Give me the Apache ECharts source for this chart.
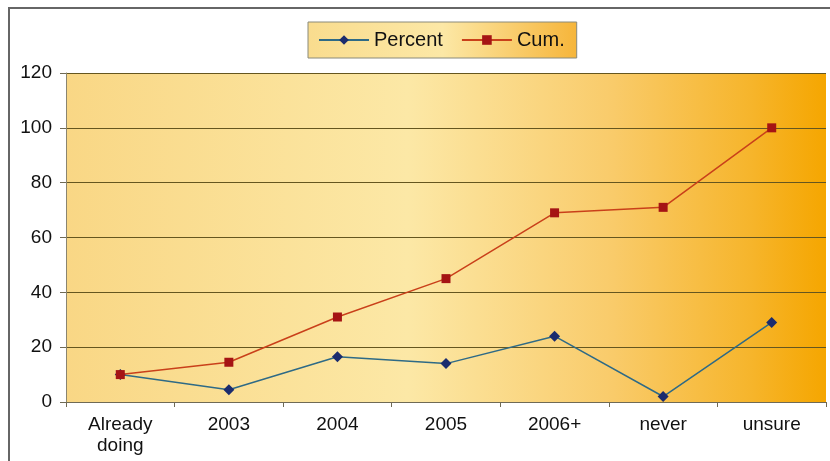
<!DOCTYPE html>
<html>
<head>
<meta charset="utf-8">
<script src="https://cdn.jsdelivr.net/npm/echarts@6/dist/echarts.min.js"></script>
<style>
  html, body { margin: 0; padding: 0; background: #ffffff; }
  #chart { width: 830px; height: 461px; }
</style>
</head>
<body>
<div id="chart"></div>
<script>
// Adoption timing: share per answer and running total
const categories = ['Already\ndoing', '2003', '2004', '2005', '2006+', 'never', 'unsure'];
const percent = [10, 4.5, 16.5, 14, 24, 2, 29];
const cumulative = [10, 14.5, 31, 45, 69, 71, 100];
const yTicks = { min: 0, max: 120, interval: 20 };

const FONT = '"Liberation Sans", Arial, sans-serif';

const chart = echarts.init(document.getElementById('chart'));

const warmFill = new echarts.graphic.LinearGradient(0, 0, 1, 0, [
  { offset: 0, color: '#f9d785' },
  { offset: 0.45, color: '#fce8a6' },
  { offset: 0.72, color: '#f9cb6a' },
  { offset: 0.9, color: '#f6b52c' },
  { offset: 1, color: '#f5a600' }
]);

const legendFill = new echarts.graphic.LinearGradient(0, 0, 1, 0, [
  { offset: 0, color: '#f9dc8e' },
  { offset: 0.5, color: '#fce8a6' },
  { offset: 1, color: '#f6b53a' }
]);

chart.setOption({
  animation: false,
  textStyle: { fontFamily: FONT },
  graphic: [
    {
      type: 'polyline',
      shape: { points: [[9, 461], [9, 8], [830, 8]] },
      style: { stroke: '#666666', lineWidth: 2, fill: null },
      z: 0
    }
  ],
  legend: {
    left: 308,
    top: 22,
    padding: [8, 12, 8, 10],
    itemWidth: 50,
    itemHeight: 12,
    itemGap: 18,
    backgroundColor: legendFill,
    borderColor: '#8a8a7a',
    borderWidth: 1,
    textStyle: { fontSize: 20, color: '#111111', fontFamily: FONT },
    data: ['Percent', 'Cum.']
  },
  grid: { left: 66, right: 4, top: 73, bottom: 59, show: true, backgroundColor: warmFill, borderWidth: 0 },
  xAxis: {
    type: 'category',
    data: categories,
    boundaryGap: true,
    axisLine: { lineStyle: { color: '#6f6a55', width: 1 } },
    axisTick: { show: true, length: 5, lineStyle: { color: '#6f6a55' } },
    axisLabel: { fontSize: 19, color: '#111111', margin: 12, lineHeight: 21, fontFamily: FONT },
    splitLine: { show: false }
  },
  yAxis: {
    type: 'value',
    min: yTicks.min,
    max: yTicks.max,
    interval: yTicks.interval,
    axisLine: { show: true, lineStyle: { color: '#8a8570', width: 1 } },
    axisTick: { show: true, length: 6, lineStyle: { color: '#6f6a55' } },
    axisLabel: { fontSize: 19, color: '#111111', margin: 14, fontFamily: FONT },
    splitLine: { show: true, lineStyle: { color: '#65561f', width: 1 } }
  },
  series: [
    {
      name: 'Percent',
      type: 'line',
      data: percent,
      symbol: 'diamond',
      symbolSize: 11,
      lineStyle: { color: '#2e6a86', width: 1.5 },
      itemStyle: { color: '#1b2c6e' },
      z: 3
    },
    {
      name: 'Cum.',
      type: 'line',
      data: cumulative,
      symbol: 'rect',
      symbolSize: 9,
      lineStyle: { color: '#c9401a', width: 1.5 },
      itemStyle: { color: '#a51414' },
      z: 4
    }
  ]
});
</script>
</body>
</html>
